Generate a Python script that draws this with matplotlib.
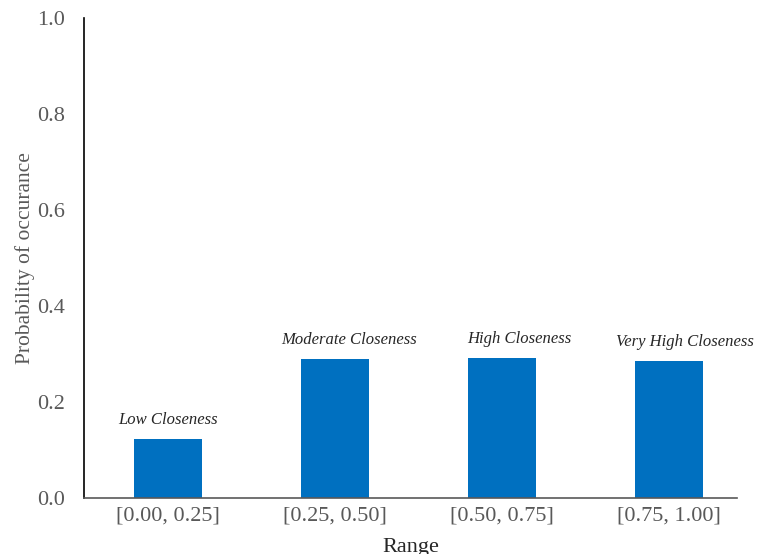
import matplotlib
matplotlib.use("Agg")
import matplotlib.pyplot as plt

ranges = ["[0.00, 0.25]", "[0.25, 0.50]", "[0.50, 0.75]", "[0.75, 1.00]"]
probability = [0.123, 0.289, 0.291, 0.285]
labels = ["Low Closeness", "Moderate Closeness", "High Closeness", "Very High Closeness"]
label_shift = [0, 14, 17, 16]  # horizontal nudge of each label, in pixels

plt.rcParams["font.family"] = ["Liberation Serif", "DejaVu Serif"]

fig = plt.figure(figsize=(7.6, 5.54), dpi=100)
ax = fig.add_axes([84 / 760, 1 - 498 / 554, (737 - 84) / 760, (498 - 18) / 554])

pos = range(len(ranges))
ax.bar(pos, probability, width=0.41, color="#0070C0")

for i, (p, lab) in enumerate(zip(probability, labels)):
    ax.annotate(lab, (i, p), xytext=(label_shift[i] * 0.72, 8), textcoords="offset points",
                ha="center", va="bottom", fontsize=12, fontstyle="italic", color="#262626")

ax.set_xlim(-0.503, 3.407)
ax.set_ylim(0, 1.0)
ax.set_yticks([0, 0.2, 0.4, 0.6, 0.8, 1.0])
ax.set_yticklabels(["0.0", "0.2", "0.4", "0.6", "0.8", "1.0"])
ax.set_xticks(list(pos))
ax.set_xticklabels(ranges)
ax.tick_params(axis="both", length=0, labelsize=16, labelcolor="#595959")
ax.tick_params(axis="y", pad=14)
ax.tick_params(axis="x", pad=6)

ax.spines["top"].set_visible(False)
ax.spines["right"].set_visible(False)
ax.spines["left"].set_color("black")
ax.spines["bottom"].set_color("#595959")
ax.spines["left"].set_linewidth(1.2)
ax.spines["bottom"].set_linewidth(1.2)

ax.set_ylabel("Probability of occurance", fontsize=15.5, color="#595959", labelpad=1)
ax.set_xlabel("Range", fontsize=16, color="#262626", labelpad=9)

fig.savefig("out.png", dpi=100)
